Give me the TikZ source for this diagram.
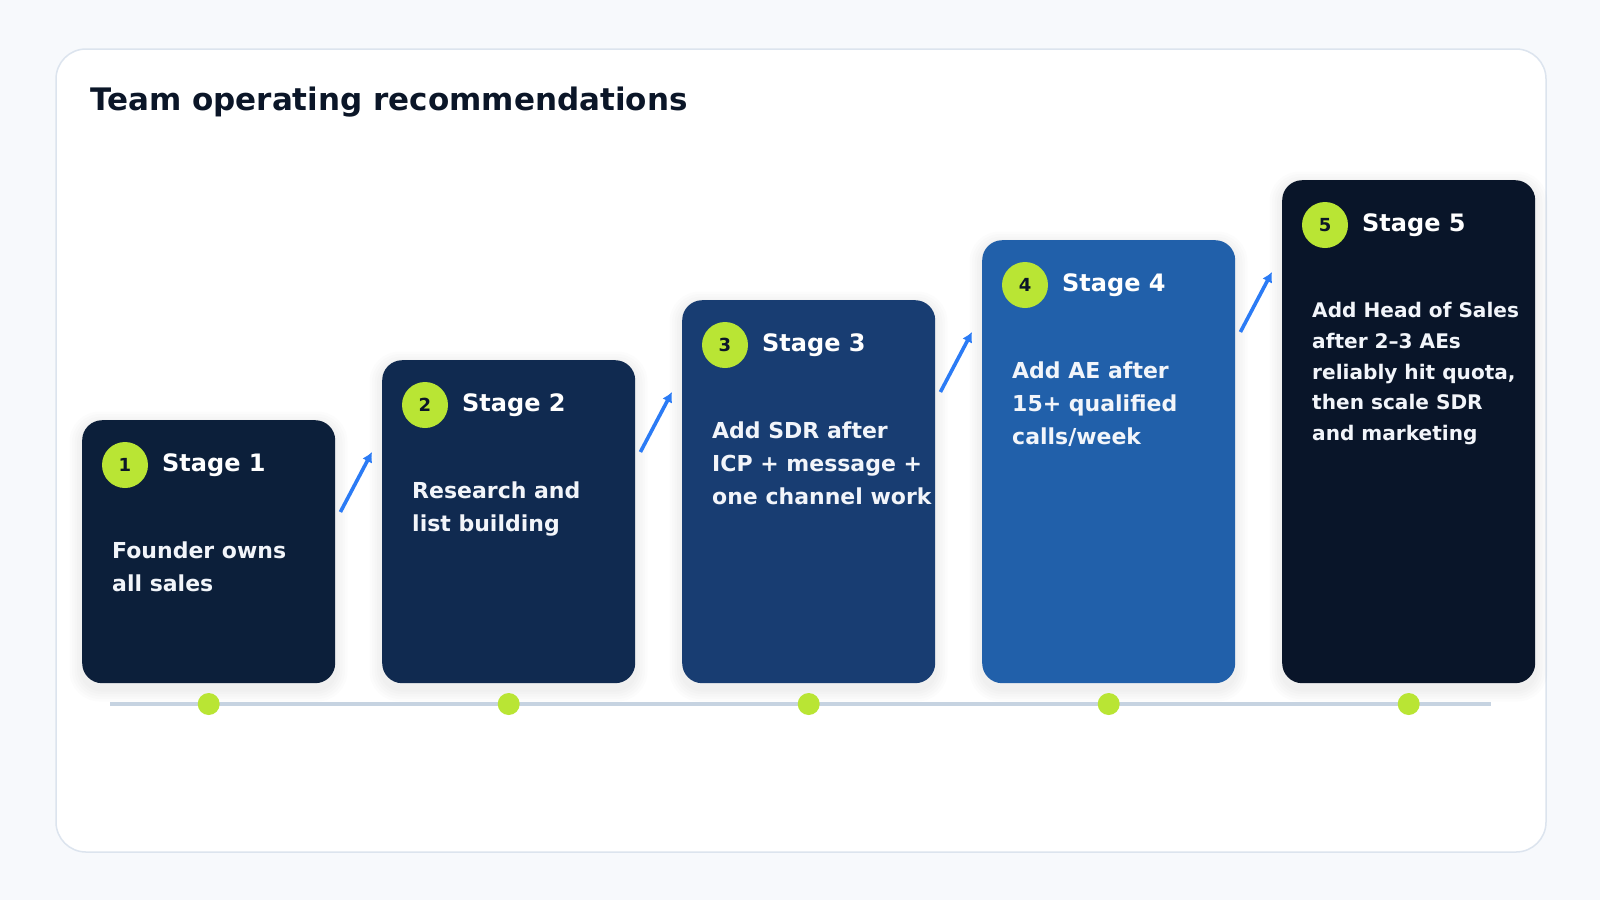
\documentclass[tikz,border=0pt]{standalone}
\usepackage{fontspec}
\setmainfont{DejaVu Sans}
\usetikzlibrary{arrows.meta,positioning}

\definecolor{pagebg}{HTML}{F7F9FC}
\definecolor{cardline}{HTML}{DCE4EE}
\definecolor{titleink}{HTML}{0B1628}
\definecolor{lime}{HTML}{B9E534}
\definecolor{arrowblue}{HTML}{2B7BF5}
\definecolor{railgrey}{HTML}{C6D3E1}
\definecolor{stageA}{HTML}{0C1F3A}
\definecolor{stageB}{HTML}{102A50}
\definecolor{stageC}{HTML}{183D72}
\definecolor{stageD}{HTML}{2160AA}
\definecolor{stageE}{HTML}{091529}
\definecolor{bodyink}{HTML}{F2F5FA}

\begin{document}
\begin{tikzpicture}[x=1pt,y=-1pt,
      stagebox/.style = {rectangle, rounded corners=20pt, anchor=north west,
        inner sep=0pt, minimum width=253pt},
      badge/.style = {circle, fill=lime, minimum size=46pt, inner sep=0pt,
        text=titleink, font=\fontsize{18}{18}\selectfont\bfseries},
      stagehead/.style = {anchor=base west, inner sep=0pt, text=white,
        font=\fontsize{24}{24}\selectfont\bfseries},
      stagetext/.style = {anchor=north west, inner sep=0pt, align=left,
        text=bodyink},
      railpt/.style = {circle, fill=lime, minimum size=22pt, inner sep=0pt},
      climb/.style = {arrowblue, line width=3.6pt,
        -{Latex[length=10pt,width=11pt]}}]

  % page and card
  \useasboundingbox[fill=pagebg] (0,0) rectangle (1600,900);
  \draw[cardline, fill=white, line width=1.5pt, rounded corners=30pt]
    (56,49) rectangle (1546,852);
  \node[anchor=base west, inner sep=0pt, text=titleink,
    font=\fontsize{31}{31}\selectfont\bfseries] (title) at (90,110)
    {Team operating recommendations};

  % stage cards
  \foreach \i/\col/\fs/\ls/\txt in {
      1/stageA/22/33/{Founder owns\\all sales},
      2/stageB/22/33/{Research and\\list building},
      3/stageC/22/32.6/{Add SDR after\\ICP + message +\\one channel work},
      4/stageD/22/32.6/{Add AE after\\15+ qualified\\calls/week},
      5/stageE/20.1/30.8/{Add Head of Sales\\after 2--3 AEs\\reliably hit quota,\\then scale SDR\\and marketing}} {
    \pgfmathsetmacro\boxleft{82+300*(\i-1)}
    \pgfmathsetmacro\boxtop{420-60*(\i-1)}
    \pgfmathsetmacro\boxhigh{683-\boxtop}
    % soft shadow
    \foreach \k in {1,...,5}
      \fill[black, opacity=0.012, rounded corners=20pt+\k*2pt]
        (\boxleft-\k*2.5, \boxtop-\k*2.5+4) rectangle
        (\boxleft+253+\k*2.5, 683+\k*2.5+6);
    \node[stagebox, fill=\col, minimum height=\boxhigh pt]
      (s\i) at (\boxleft,\boxtop) {};
    \node[badge] (b\i) at ([shift={(43,45)}]s\i.north west) {\i};
    \node[stagehead] (h\i) at ([shift={(80,51)}]s\i.north west) {Stage \i};
    \node[stagetext, font=\fontsize{\fs}{\ls}\selectfont\bfseries]
      (t\i) at ([shift={(30,122)}]s\i.north west) {\txt};
  }

  % climbing arrows
  \foreach \i/\j in {1/2,2/3,3/4,4/5}
    \draw[climb] ([shift={(5,92)}]s\i.north east)
      -- ([shift={(-10,92)}]s\j.north west);

  % timeline
  \coordinate (rail-w) at (110,704);
  \coordinate (rail-e) at (1491,704);
  \draw[railgrey, line width=4pt] (rail-w) -- (rail-e);
  \foreach \i in {1,...,5}
    \node[railpt] (d\i) at (s\i.south |- rail-w) {};
\end{tikzpicture}
\end{document}
